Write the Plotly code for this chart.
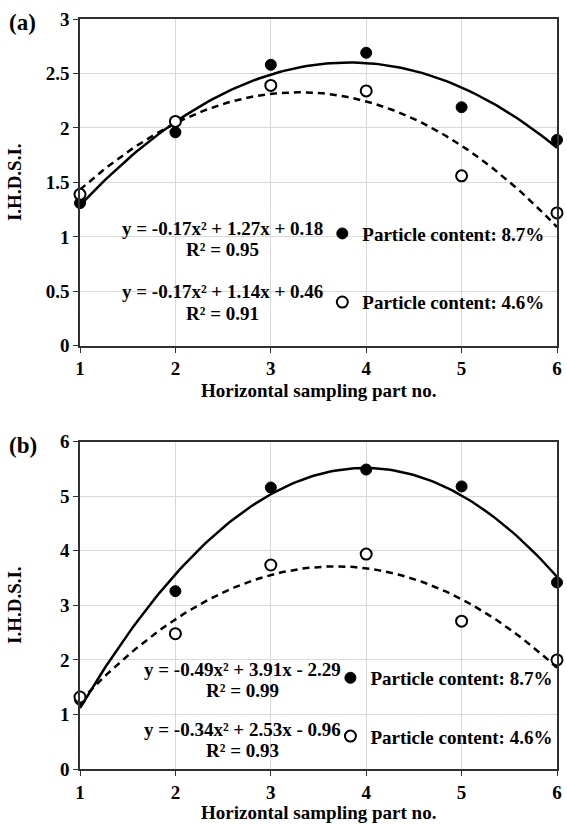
import numpy as np
import plotly.graph_objects as go

# ---------------- data ----------------
parts = [1, 2, 3, 4, 5, 6]
a_high = [1.31, 1.96, 2.58, 2.69, 2.19, 1.89]   # (a) particle content 8.7%
a_low = [1.39, 2.06, 2.39, 2.34, 1.56, 1.22]    # (a) particle content 4.6%
b_high = [1.27, 3.26, 5.16, 5.49, 5.18, 3.42]   # (b) particle content 8.7%
b_low = [1.32, 2.48, 3.74, 3.94, 2.71, 2.00]    # (b) particle content 4.6%

x_ticks = [1, 2, 3, 4, 5, 6]
label_high = "Particle content: 8.7%"
label_low = "Particle content: 4.6%"
eq_a_high = ("y = -0.17x² + 1.27x + 0.18", "R² = 0.95")
eq_a_low = ("y = -0.17x² + 1.14x + 0.46", "R² = 0.91")
eq_b_high = ("y = -0.49x² + 3.91x - 2.29", "R² = 0.99")
eq_b_low = ("y = -0.34x² + 2.53x - 0.96", "R² = 0.93")

FONT = "Liberation Serif, Times New Roman, serif"
FS = 19

def trend(xv, yv):
    c = np.polyfit(xv, yv, 2)
    xs = np.linspace(min(xv), max(xv), 121)
    return xs, np.polyval(c, xs)

fig = go.Figure()

def add_panel(xa, ya, hi, lo, leg_hi, leg_lo):
    xs, ys = trend(parts, hi)
    fig.add_trace(go.Scatter(x=xs, y=ys, mode="lines", xaxis=xa, yaxis=ya,
                             line=dict(color="black", width=2.5), showlegend=False,
                             hoverinfo="skip"))
    xs, ys = trend(parts, lo)
    fig.add_trace(go.Scatter(x=xs, y=ys, mode="lines", xaxis=xa, yaxis=ya,
                             line=dict(color="black", width=2.5, dash="7px,5px"),
                             showlegend=False, hoverinfo="skip"))
    fig.add_trace(go.Scatter(x=parts, y=hi, mode="markers", xaxis=xa, yaxis=ya,
                             name=label_high, legend=leg_hi, cliponaxis=False,
                             marker=dict(size=11, color="black",
                                         line=dict(color="black", width=1))))
    fig.add_trace(go.Scatter(x=parts, y=lo, mode="markers", xaxis=xa, yaxis=ya,
                             name=label_low, legend=leg_lo, cliponaxis=False,
                             marker=dict(size=11, color="white",
                                         line=dict(color="black", width=2))))

add_panel("x", "y", a_high, a_low, "legend", "legend2")
add_panel("x2", "y2", b_high, b_low, "legend3", "legend4")

axis_common = dict(showgrid=True, gridcolor="#d9d9d9", gridwidth=1,
                   showline=True, linecolor="#303030", linewidth=1.5, mirror=True,
                   ticks="outside", ticklen=5, tickcolor="#303030", zeroline=False,
                   tickfont=dict(family=FONT, size=FS, color="black", weight="bold"))

TOP = [0.5643, 1.0]
BOT = [0.0, 0.4364]

fig.update_layout(
    width=567, height=825,
    margin=dict(l=80, r=5, t=19, b=56),
    paper_bgcolor="white", plot_bgcolor="white",
    xaxis=dict(domain=[0, 1], anchor="y", range=[1, 6], tickvals=x_ticks, **axis_common),
    yaxis=dict(domain=TOP, anchor="x", range=[0, 3], dtick=0.5, **axis_common),
    xaxis2=dict(domain=[0, 1], anchor="y2", range=[1, 6], tickvals=x_ticks, **axis_common),
    yaxis2=dict(domain=BOT, anchor="x2", range=[0, 6], dtick=1, **axis_common),
)

leg_common = dict(bgcolor="rgba(0,0,0,0)", borderwidth=0, xanchor="left", yanchor="middle",
                  itemwidth=30, font=dict(family=FONT, size=FS, color="black", weight="bold"))

def ypaper(dom, rng, v):
    return dom[0] + (dom[1] - dom[0]) * v / rng

fig.update_layout(
    legend=dict(x=0.508, y=ypaper(TOP, 3, 1.03), **leg_common),
    legend2=dict(x=0.508, y=ypaper(TOP, 3, 0.40), **leg_common),
    legend3=dict(x=0.525, y=ypaper(BOT, 6, 1.67), **leg_common),
    legend4=dict(x=0.525, y=ypaper(BOT, 6, 0.60), **leg_common),
)

tf = dict(family=FONT, size=FS, color="black", weight="bold")
ann = []

def eq(xr, yr, xc, y1, y2, texts):
    ann.append(dict(xref=xr, yref=yr, x=xc, y=y1, text=texts[0], showarrow=False,
                    font=tf, xanchor="center", yanchor="middle"))
    ann.append(dict(xref=xr, yref=yr, x=xc, y=y2, text=texts[1], showarrow=False,
                    font=tf, xanchor="center", yanchor="middle"))

eq("x", "y", 2.49, 1.08, 0.88, eq_a_high)
eq("x", "y", 2.49, 0.50, 0.30, eq_a_low)
eq("x2", "y2", 2.70, 1.82, 1.43, eq_b_high)
eq("x2", "y2", 2.70, 0.73, 0.34, eq_b_low)

for xr, yr, off in (("x domain", "y domain", -0.137), ("x2 domain", "y2 domain", -0.133)):
    ann.append(dict(xref=xr, yref=yr, x=0.5, y=off, text="Horizontal sampling part no.",
                    showarrow=False, font=tf, xanchor="center", yanchor="middle"))
for xr, yr in (("x domain", "y domain"), ("x2 domain", "y2 domain")):
    ann.append(dict(xref=xr, yref=yr, x=-0.137, y=0.5, text="I.H.D.S.I.", textangle=-90,
                    showarrow=False, font=tf, xanchor="center", yanchor="middle"))

ann.append(dict(xref="paper", yref="paper", x=-0.12, y=(769 - 23) / 750, text="(a)",
                showarrow=False, font=dict(family=FONT, size=23, color="black", weight="bold"),
                xanchor="center", yanchor="middle"))
ann.append(dict(xref="paper", yref="paper", x=-0.12, y=(769 - 445) / 750, text="(b)",
                showarrow=False, font=dict(family=FONT, size=23, color="black", weight="bold"),
                xanchor="center", yanchor="middle"))

fig.update_layout(annotations=ann)
fig.write_html("out.html")
